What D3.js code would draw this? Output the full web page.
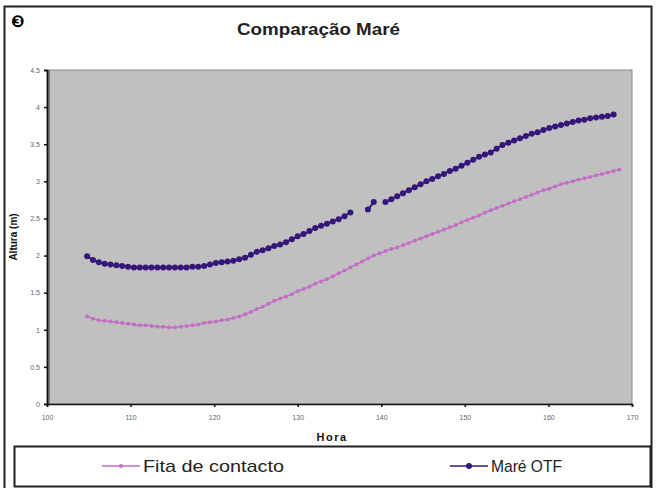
<!DOCTYPE html>
<html><head><meta charset="utf-8">
<script src="https://cdn.jsdelivr.net/npm/d3@7/dist/d3.min.js"></script>
<style>body{margin:0;background:#fff}svg{display:block}</style>
</head><body><svg id="c" width="656" height="488"></svg>
<script>
const hora = [104.8,105.5,106.2,106.9,107.6,108.3,109.0,109.7,110.4,111.1,111.8,112.5,113.2,113.9,114.6,115.3,116.0,116.7,117.4,118.1,118.8,119.5,120.2,120.9,121.6,122.3,123.0,123.7,124.4,125.1,125.8,126.5,127.2,127.9,128.6,129.3,130.0,130.7,131.4,132.1,132.8,133.5,134.2,134.9,135.6,136.3,137.0,137.7,138.4,139.1,139.8,140.5,141.2,141.9,142.6,143.3,144.0,144.7,145.4,146.1,146.8,147.5,148.2,148.9,149.6,150.3,151.0,151.7,152.4,153.1,153.8,154.5,155.2,155.9,156.6,157.3,158.0,158.7,159.4,160.1,160.8,161.5,162.2,162.9,163.6,164.3,165.0,165.7,166.4,167.1,167.8,168.5];
const mareOTF = [1.99,1.94,1.91,1.89,1.88,1.87,1.86,1.85,1.84,1.84,1.84,1.84,1.84,1.84,1.84,1.84,1.84,1.84,1.85,1.85,1.86,1.88,1.90,1.91,1.92,1.93,1.95,1.97,2.01,2.05,2.07,2.10,2.13,2.15,2.18,2.22,2.26,2.29,2.33,2.37,2.40,2.43,2.46,2.49,2.53,2.58,null,null,2.62,2.72,null,2.72,2.76,2.80,2.84,2.88,2.92,2.96,3.00,3.03,3.07,3.10,3.14,3.17,3.21,3.25,3.29,3.33,3.36,3.39,3.44,3.49,3.52,3.55,3.58,3.61,3.64,3.66,3.69,3.72,3.74,3.76,3.78,3.80,3.82,3.83,3.85,3.86,3.87,3.88,3.90,null];
const fitaContacto = [1.18,1.15,1.13,1.12,1.11,1.10,1.09,1.08,1.07,1.06,1.06,1.05,1.04,1.04,1.03,1.03,1.04,1.05,1.06,1.07,1.09,1.10,1.11,1.13,1.14,1.16,1.18,1.21,1.24,1.28,1.31,1.35,1.39,1.42,1.45,1.48,1.52,1.55,1.58,1.62,1.65,1.68,1.72,1.76,1.80,1.84,1.88,1.92,1.96,2.00,2.03,2.06,2.09,2.11,2.14,2.17,2.20,2.23,2.26,2.29,2.32,2.35,2.38,2.41,2.45,2.48,2.51,2.54,2.58,2.61,2.64,2.67,2.70,2.73,2.76,2.79,2.82,2.85,2.88,2.90,2.93,2.96,2.98,3.00,3.02,3.04,3.06,3.08,3.10,3.12,3.14,3.16];
const xTicks = [100,110,120,130,140,150,160,170];
const xTickLabels = ["100","110","120","130","140","150","160","170"];
const yTicks = [0,0.5,1,1.5,2,2.5,3,3.5,4,4.5];
const yTickLabels = ["0","0.5","1","1.5","2","2.5","3","3.5","4","4.5"];
const seriesNames = ["Fita de contacto","Maré OTF"];
const colors = {fita:"#c46ec6", mare:"#35177a"};

const svg = d3.select("#c");
const font = "'Liberation Sans', Arial, sans-serif";
const L=47, R=632, T=70, B=404;
const x = d3.scaleLinear().domain([100,170]).range([L,R]);
const y = d3.scaleLinear().domain([0,4.5]).range([B,T]);

// outer frame
svg.append("rect").attr("x",4.5).attr("y",6.5).attr("width",647).attr("height",490).attr("fill","#fff").attr("stroke","#222").attr("stroke-width",2);
svg.append("text").attr("x",11).attr("y",27).attr("font-family","'DejaVu Sans'").attr("font-size",16).attr("font-weight","bold").text("❸");
svg.append("text").attr("x",237).attr("y",35).attr("font-family",font).attr("font-weight","bold").attr("font-size",17)
  .attr("textLength",163).attr("lengthAdjust","spacingAndGlyphs").attr("fill","#222").text("Comparação Maré");

// plot area
svg.append("rect").attr("x",L).attr("y",T).attr("width",R-L).attr("height",B-T).attr("fill","#c0c0c0").attr("stroke","#8a8a8a").attr("stroke-width",1);
svg.append("rect").attr("x",L).attr("y",T).attr("width",3).attr("height",B-T).attr("fill","#7a7a7a");

const gx = svg.append("g").attr("transform",`translate(0,${B})`)
  .call(d3.axisBottom(x).tickValues(xTicks).tickFormat((d,i)=>xTickLabels[i]).tickSize(3).tickPadding(8));
const gy = svg.append("g").attr("transform",`translate(${L},0)`)
  .call(d3.axisLeft(y).tickValues(yTicks).tickFormat((d,i)=>yTickLabels[i]).tickSize(3).tickPadding(4));
[gx,gy].forEach(g=>{
  g.select(".domain").attr("stroke","#111").attr("stroke-width",1.5);
  g.selectAll(".tick line").attr("stroke","#111").attr("stroke-width",1.5);
  g.selectAll(".tick text").attr("font-family",font).attr("font-size",7).attr("fill","#666");
});

svg.append("text").attr("transform","translate(17,237) rotate(-90)").attr("text-anchor","middle").attr("font-family",font).attr("font-weight","bold").attr("font-size",10).attr("fill","#111").text("Altura (m)");
svg.append("text").attr("x",332).attr("y",441).attr("text-anchor","middle").attr("font-family",font).attr("font-weight","bold").attr("font-size",11).attr("letter-spacing",1.5).attr("fill","#111").text("Hora");

function drawSeries(vals,color,r,w){
  const data = hora.map((h,i)=>({h,v:vals[i]}));
  const line = d3.line().defined(d=>d.v!=null).x(d=>x(d.h)).y(d=>y(d.v));
  svg.append("path").attr("d",line(data)).attr("fill","none").attr("stroke",color).attr("stroke-width",w);
  svg.append("g").selectAll("circle").data(data.filter(d=>d.v!=null)).join("circle")
    .attr("cx",d=>x(d.h)).attr("cy",d=>y(d.v)).attr("r",r).attr("fill",color);
}
drawSeries(fitaContacto,colors.fita,2,1.5);
drawSeries(mareOTF,colors.mare,3,2);

// legend
svg.append("rect").attr("x",14.5).attr("y",446.5).attr("width",636).attr("height",40).attr("fill","#fff").attr("stroke","#222").attr("stroke-width",2);
const leg = [{name:seriesNames[0],c:colors.fita,x0:102,r:2,len:141},{name:seriesNames[1],c:colors.mare,x0:450,r:3,len:71}];
leg.forEach(l=>{
  svg.append("line").attr("x1",l.x0).attr("x2",l.x0+38).attr("y1",466).attr("y2",466).attr("stroke",l.c).attr("stroke-width",1.5);
  svg.append("circle").attr("cx",l.x0+19).attr("cy",466).attr("r",l.r).attr("fill",l.c);
  svg.append("text").attr("x",l.x0+41).attr("y",472).attr("font-family",font).attr("font-size",17)
    .attr("textLength",l.len).attr("lengthAdjust","spacingAndGlyphs").attr("fill","#222").text(l.name);
});
</script></body></html>
